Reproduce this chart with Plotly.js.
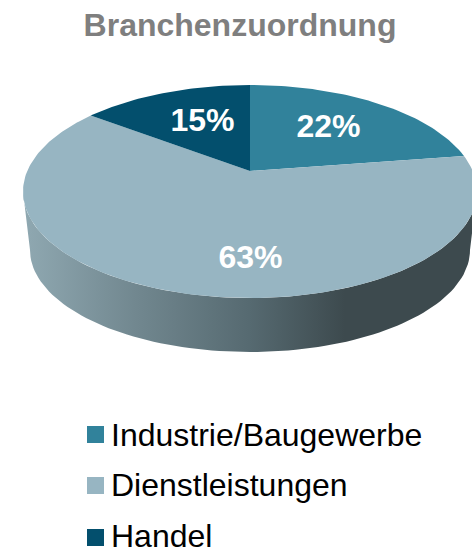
<!DOCTYPE html>
<html>
<head>
<meta charset="utf-8">
<script src="https://cdn.plot.ly/plotly-3.0.1.min.js"></script>
<style>html,body{margin:0;padding:0;background:#fff;overflow:hidden}#c{width:472px;height:550px}</style>
</head>
<body>
<div id="c"></div>
<script>
const categories = ["Industrie/Baugewerbe", "Dienstleistungen", "Handel"];
const shares = [22, 63, 15];
const sliceColors = ["#31829b", "#97b5c2", "#034f6d"];
const chartTitle = "Branchenzuordnung";

// presentation geometry, in page pixels
const top_ = {cx: 250, cy: 191.5, rx: 227, ry: 106.5};
const base = {cx: 250, cy: 250, rx: 220, ry: 102};
const tilt = 0.1925;           // perspective shift of the pie centre
const warp = 0.045;            // perspective correction of slice angles
const labelX = [328.5, 250.5, 202.5];
const labelY = [128.5, 259.5, 122.5];
const swatchX = 95.5;
const swatchY = [434.5, 485.5, 537.5];
const legendTextX = 111;
const legendTextY = [437.5, 488, 539];
const FONT = "Liberation Sans, Arial, sans-serif";

function rimPoint(a0) {          // a0 = clockwise angle from 12 o'clock, radians
  const a = a0 + warp * (1 - Math.cos(a0));
  const s = Math.sin(a), c = Math.cos(a);
  const w = 1 + tilt * c;
  return [top_.cx + top_.rx * s * Math.sqrt(1 - tilt * tilt) / w,
          top_.cy - top_.ry * (c + tilt) / w];
}
const total = shares.reduce((p, v) => p + v, 0);
const apex = [top_.cx, top_.cy - top_.ry * tilt];

const traces = [];

// side wall
const wx = [], wy = [];
for (let d = 90; d <= 270; d += 2) {
  const t = d * Math.PI / 180;
  wx.push(top_.cx + top_.rx * Math.sin(t));
  wy.push(top_.cy - top_.ry * Math.cos(t));
}
for (let d = 270; d >= 90; d -= 2) {
  const t = d * Math.PI / 180;
  wx.push(base.cx + base.rx * Math.sin(t));
  wy.push(base.cy - base.ry * Math.cos(t));
}
traces.push({
  type: "scatter", mode: "lines", x: wx, y: wy, fill: "toself",
  line: {width: 0, color: "rgba(0,0,0,0)"},
  fillgradient: {type: "horizontal", start: 25, stop: 345,
    colorscale: [[0, "#8fa8b1"], [0.35, "#71878f"], [0.7, "#566a71"], [1, "#3d4a4e"]]},
  hoverinfo: "skip", showlegend: false
});

// top-surface slices
let acc = 0;
shares.forEach((v, i) => {
  const a0 = acc / total * 2 * Math.PI;
  acc += v;
  const a1 = acc / total * 2 * Math.PI;
  const xs = [apex[0]], ys = [apex[1]];
  const n = Math.max(8, Math.round(v * 3));
  for (let k = 0; k <= n; k++) {
    const p = rimPoint(a0 + (a1 - a0) * k / n);
    xs.push(p[0]); ys.push(p[1]);
  }
  xs.push(apex[0]); ys.push(apex[1]);
  traces.push({
    type: "scatter", mode: "lines", x: xs, y: ys, fill: "toself",
    fillcolor: sliceColors[i], line: {width: 0, color: sliceColors[i]},
    name: categories[i], hoverinfo: "name", showlegend: false
  });
});

// percentage labels
traces.push({
  type: "scatter", mode: "text", x: labelX, y: labelY,
  text: shares.map(v => v + "%"), textposition: "middle center",
  textfont: {family: FONT, size: 32, color: "#ffffff", weight: 700},
  hoverinfo: "skip", showlegend: false
});

// legend swatches and texts
traces.push({
  type: "scatter", mode: "markers", x: categories.map(() => swatchX), y: swatchY,
  marker: {symbol: "square", size: 17, color: sliceColors, line: {width: 0}},
  hoverinfo: "skip", showlegend: false
});
traces.push({
  type: "scatter", mode: "text", x: categories.map(() => legendTextX), y: legendTextY,
  text: categories, textposition: "middle right", cliponaxis: false,
  textfont: {family: FONT, size: 32, color: "#000000"},
  hoverinfo: "skip", showlegend: false
});

const layout = {
  width: 472, height: 550,
  margin: {l: 0, r: 0, t: 0, b: 0},
  paper_bgcolor: "#ffffff", plot_bgcolor: "#ffffff",
  showlegend: false,
  title: {text: "<b>" + chartTitle + "</b>", x: 240 / 472, xanchor: "center",
          y: 1 - 25 / 550, yanchor: "middle",
          font: {family: FONT, size: 32, color: "#7f7f7f"}},
  xaxis: {range: [0, 472], visible: false, fixedrange: true},
  yaxis: {range: [550, 0], visible: false, fixedrange: true}
};
Plotly.newPlot("c", traces, layout, {displayModeBar: false, responsive: false});
</script>
</body>
</html>
